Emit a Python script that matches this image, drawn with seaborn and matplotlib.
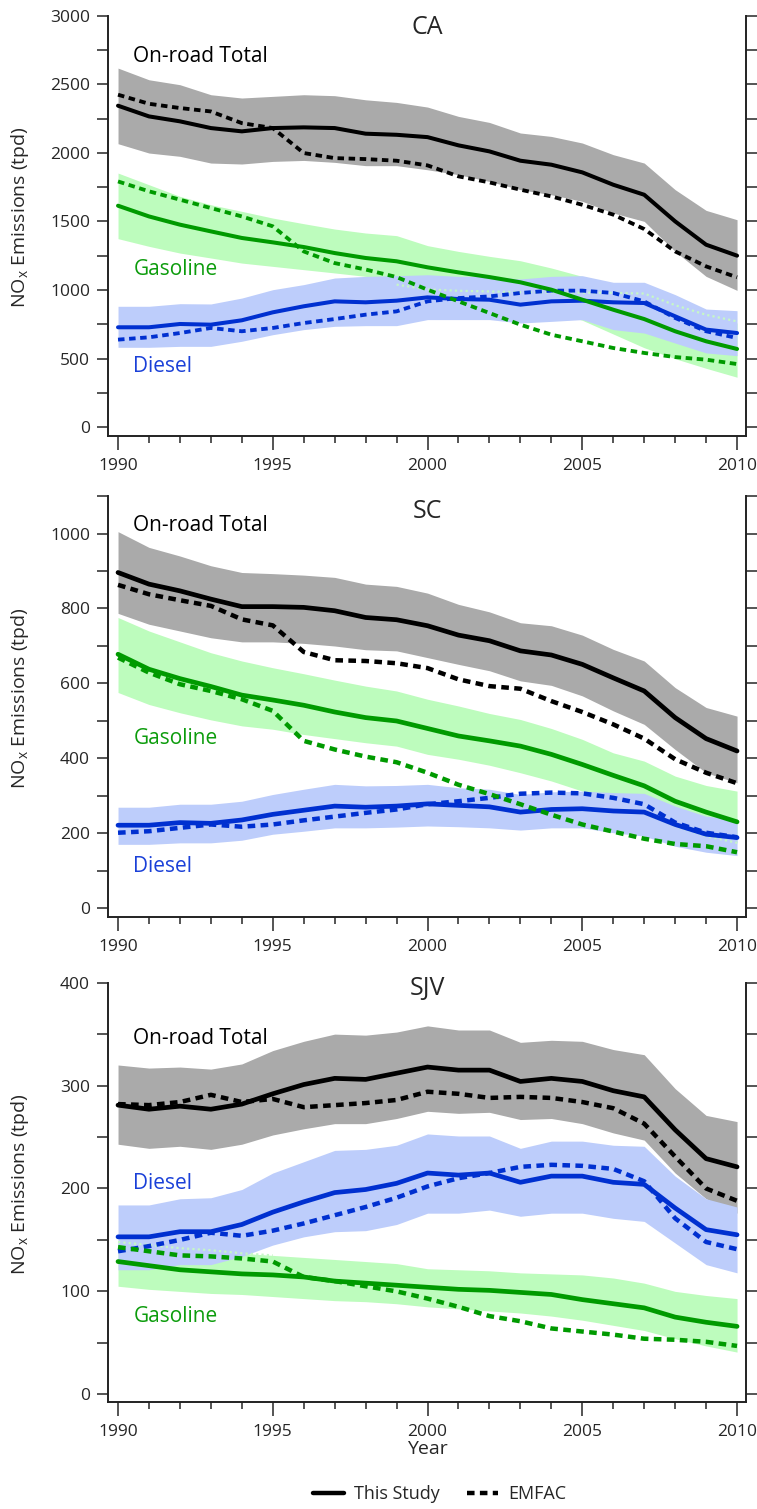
import matplotlib
matplotlib.use("Agg")
import matplotlib.pyplot as plt
from matplotlib.lines import Line2D
from matplotlib.ticker import MultipleLocator
import seaborn as sns

years = list(range(1990, 2011))

# ---- California (statewide) ----
ca_total = [2344, 2266, 2230, 2181, 2157, 2181, 2186, 2181, 2140, 2132, 2115, 2055, 2011, 1943, 1914, 1858, 1768, 1695, 1501, 1331, 1251]
ca_total_hi = [2618, 2533, 2497, 2424, 2400, 2412, 2424, 2417, 2387, 2368, 2334, 2266, 2222, 2145, 2120, 2072, 1987, 1926, 1732, 1581, 1513]
ca_total_lo = [2067, 1999, 1975, 1926, 1919, 1938, 1945, 1931, 1907, 1907, 1877, 1841, 1792, 1732, 1695, 1647, 1562, 1501, 1282, 1100, 998]
ca_total_emfac = [2424, 2358, 2327, 2302, 2217, 2181, 1999, 1962, 1955, 1943, 1909, 1829, 1785, 1732, 1683, 1622, 1550, 1445, 1282, 1173, 1093]
ca_gas = [1615, 1537, 1477, 1428, 1380, 1348, 1314, 1270, 1234, 1210, 1166, 1129, 1095, 1057, 1003, 930, 857, 789, 700, 627, 571]
ca_gas_hi = [1853, 1768, 1683, 1622, 1574, 1525, 1484, 1445, 1416, 1397, 1324, 1282, 1246, 1214, 1161, 1100, 1040, 985, 890, 815, 760]
ca_gas_lo = [1375, 1319, 1270, 1234, 1197, 1173, 1149, 1125, 1100, 1076, 1040, 1003, 960, 905, 850, 780, 680, 580, 500, 430, 365]
ca_gas_emfac = [1792, 1720, 1659, 1598, 1537, 1465, 1282, 1197, 1150, 1095, 1003, 918, 833, 748, 675, 627, 578, 542, 512, 493, 461]
ca_diesel = [729, 729, 753, 748, 780, 838, 882, 918, 911, 923, 947, 935, 930, 894, 918, 923, 911, 906, 809, 712, 687]
ca_diesel_hi = [882, 882, 901, 899, 942, 1003, 1040, 1088, 1100, 1105, 1112, 1100, 1100, 1081, 1100, 1105, 1057, 1057, 967, 862, 850]
ca_diesel_lo = [583, 583, 590, 590, 627, 675, 712, 736, 741, 741, 785, 785, 785, 760, 772, 785, 712, 687, 614, 542, 522]
ca_diesel_emfac = [639, 656, 687, 724, 700, 724, 760, 789, 821, 845, 918, 942, 954, 979, 996, 996, 979, 918, 797, 700, 651]
ca_gas_edge_years = list(range(1999, 2011))
ca_gas_edge = [1040, 1005, 995, 990, 985, 983, 981, 980, 975, 890, 820, 772]

# ---- South Coast ----
sc_total = [896, 865, 847, 825, 805, 805, 803, 794, 776, 770, 754, 729, 714, 687, 676, 651, 615, 580, 509, 453, 420]
sc_total_hi = [1005, 963, 940, 914, 896, 893, 889, 883, 865, 859, 841, 811, 791, 762, 754, 729, 691, 660, 589, 536, 513]
sc_total_lo = [787, 758, 740, 722, 711, 711, 707, 700, 690, 687, 669, 651, 634, 607, 595, 567, 527, 491, 424, 362, 335]
sc_total_emfac = [863, 838, 822, 807, 771, 755, 684, 662, 660, 654, 641, 611, 593, 586, 553, 524, 491, 453, 398, 362, 334]
sc_gas = [678, 638, 613, 592, 569, 556, 542, 524, 509, 500, 480, 460, 447, 433, 411, 384, 355, 327, 286, 257, 231]
sc_gas_hi = [776, 740, 711, 682, 660, 642, 626, 609, 593, 580, 558, 540, 520, 504, 480, 451, 415, 393, 353, 328, 313]
sc_gas_lo = [576, 544, 522, 503, 487, 478, 464, 453, 442, 433, 411, 398, 382, 362, 340, 313, 282, 255, 220, 193, 175]
sc_gas_emfac = [669, 629, 598, 580, 558, 527, 447, 424, 405, 390, 362, 330, 305, 278, 250, 224, 205, 186, 172, 166, 150]
sc_diesel = [222, 222, 229, 227, 236, 251, 262, 273, 270, 273, 279, 275, 271, 257, 264, 266, 260, 257, 224, 198, 189]
sc_diesel_hi = [270, 270, 278, 278, 286, 304, 318, 331, 327, 328, 331, 322, 318, 304, 311, 313, 309, 307, 273, 246, 238]
sc_diesel_lo = [171, 171, 175, 175, 182, 198, 206, 215, 215, 217, 220, 218, 215, 209, 215, 215, 202, 193, 166, 150, 141]
sc_diesel_emfac = [202, 206, 215, 224, 218, 224, 235, 245, 255, 264, 278, 286, 295, 306, 309, 307, 295, 278, 229, 202, 190]
sc_gas_edge_years = [2007, 2008, 2009, 2010]
sc_gas_edge = [255, 220, 193, 175]

# ---- San Joaquin Valley ----
sjv_total = [281, 277, 280, 277, 282, 292, 301, 307, 306, 312, 318, 315, 315, 304, 307, 304, 295, 289, 257, 229, 221]
sjv_total_hi = [320, 317, 318, 316, 321, 334, 343, 350, 349, 352, 358, 354, 354, 342, 344, 343, 335, 330, 297, 271, 265]
sjv_total_lo = [243, 239, 241, 238, 243, 252, 258, 263, 263, 268, 275, 273, 274, 267, 268, 263, 254, 247, 215, 190, 176]
sjv_total_emfac = [282, 281, 284, 291, 284, 287, 279, 281, 283, 286, 294, 292, 288, 289, 288, 284, 278, 263, 231, 200, 188]
sjv_gas = [129, 125, 121, 119, 117, 116, 114, 110, 108, 106, 104, 102, 101, 99, 97, 92, 88, 84, 75, 70, 66]
sjv_gas_hi = [148, 145, 142, 140, 137, 135, 133, 131, 129, 127, 122, 121, 120, 118, 117, 116, 113, 108, 100, 96, 93]
sjv_gas_lo = [105, 102, 100, 98, 97, 95, 93, 91, 90, 88, 85, 83, 81, 79, 76, 72, 67, 62, 54, 47, 41]
sjv_gas_emfac = [143, 139, 135, 134, 132, 129, 114, 110, 105, 100, 93, 85, 76, 71, 64, 61, 58, 54, 53, 51, 47]
sjv_diesel = [153, 153, 158, 158, 165, 177, 187, 196, 199, 205, 215, 213, 215, 206, 212, 212, 206, 204, 181, 160, 155]
sjv_diesel_hi = [184, 184, 190, 191, 199, 215, 226, 237, 238, 242, 253, 251, 251, 239, 246, 246, 242, 241, 212, 190, 182]
sjv_diesel_lo = [121, 121, 126, 126, 134, 145, 153, 158, 159, 165, 176, 176, 179, 173, 176, 176, 171, 168, 147, 126, 118]
sjv_diesel_emfac = [139, 144, 150, 157, 154, 159, 166, 174, 182, 191, 202, 210, 215, 221, 223, 222, 219, 207, 171, 148, 141]
sjv_gas_edge_years = [1990, 1991, 1992, 1993, 1994, 1995]
sjv_gas_edge = [148, 145, 142, 140, 137, 135]

BLACK = "#000000"
GREEN = "#009a00"
BLUE = "#0030d0"
FILL_GRAY = "#aaaaaa"
FILL_GREEN = "#bdfcbd"
FILL_BLUE = "#bdcdfb"
TXT_GREEN = "#0c9c0c"
TXT_BLUE = "#1a40d8"
DASH = (0, (1.7, 1.2))

sns.set_style("ticks")
plt.rcParams["font.family"] = ["Open Sans", "DejaVu Sans"]
plt.rcParams["mathtext.default"] = "regular"

fig = plt.figure(figsize=(7.57, 15.09), dpi=100)

panels = [
    dict(name="CA", rect=[0.1427, 0.7111, 0.8428, 0.2785], ylim=(-63, 3000), major=500, minor=250,
         total=(ca_total, ca_total_lo, ca_total_hi, ca_total_emfac),
         gas=(ca_gas, ca_gas_lo, ca_gas_hi, ca_gas_emfac),
         diesel=(ca_diesel, ca_diesel_lo, ca_diesel_hi, ca_diesel_emfac),
         edge=(ca_gas_edge_years, ca_gas_edge),
         title_y=0.973, lw=2.9,
         labels=[("On-road Total", 2700, BLACK), ("Gasoline", 1149, TXT_GREEN), ("Diesel", 442, TXT_BLUE)]),
    dict(name="SC", rect=[0.1427, 0.3925, 0.8428, 0.2788], ylim=(-22, 1100), major=200, minor=100,
         total=(sc_total, sc_total_lo, sc_total_hi, sc_total_emfac),
         gas=(sc_gas, sc_gas_lo, sc_gas_hi, sc_gas_emfac),
         diesel=(sc_diesel, sc_diesel_lo, sc_diesel_hi, sc_diesel_emfac),
         edge=(sc_gas_edge_years, sc_gas_edge),
         title_y=0.962, lw=3.4,
         labels=[("On-road Total", 1022, BLACK), ("Gasoline", 454, TXT_GREEN), ("Diesel", 112, TXT_BLUE)]),
    dict(name="SJV", rect=[0.1427, 0.0709, 0.8428, 0.2779], ylim=(-7.5, 400), major=100, minor=50,
         total=(sjv_total, sjv_total_lo, sjv_total_hi, sjv_total_emfac),
         gas=(sjv_gas, sjv_gas_lo, sjv_gas_hi, sjv_gas_emfac),
         diesel=(sjv_diesel, sjv_diesel_lo, sjv_diesel_hi, sjv_diesel_emfac),
         edge=(sjv_gas_edge_years, sjv_gas_edge),
         title_y=0.985, lw=3.4,
         labels=[("On-road Total", 346, BLACK), ("Diesel", 205, TXT_BLUE), ("Gasoline", 76, TXT_GREEN)]),
]

axes = []
for p in panels:
    ax = fig.add_axes(p["rect"])
    axes.append(ax)

    # uncertainty bands: total, gasoline, diesel
    for (mid, lo, hi, em), fc in ((p["total"], FILL_GRAY), (p["gas"], FILL_GREEN), (p["diesel"], FILL_BLUE)):
        ax.fill_between(years, lo, hi, color=fc, linewidth=0, zorder=1)

    ey, ev = p["edge"]
    sns.lineplot(x=ey, y=ev, ax=ax, color="#c6f8c6", linewidth=1.6,
                 linestyle=(0, (1, 1.4)), zorder=2)

    lw = p["lw"]
    for (mid, lo, hi, em), c in ((p["diesel"], BLUE), (p["gas"], GREEN), (p["total"], BLACK)):
        sns.lineplot(x=years, y=mid, ax=ax, color=c, linewidth=lw, zorder=3)
        sns.lineplot(x=years, y=em, ax=ax, color=c, linewidth=lw * 0.95, linestyle=DASH, zorder=3)

    ax.set_xlim(1989.677, 2010.29)
    ax.set_ylim(*p["ylim"])
    ax.xaxis.set_major_locator(MultipleLocator(5))
    ax.xaxis.set_minor_locator(MultipleLocator(1))
    ax.yaxis.set_major_locator(MultipleLocator(p["major"]))
    ax.yaxis.set_minor_locator(MultipleLocator(p["minor"]))
    ax.tick_params(axis="x", which="major", length=10, width=1.1, pad=6, labelsize=12.5, direction="out")
    ax.tick_params(axis="x", which="minor", length=5, width=1.1, direction="out")
    ax.tick_params(axis="y", which="both", length=8, width=1.1, left=True, right=True,
                   labelleft=True, labelright=False, direction="out", pad=5, labelsize=12.5)

    for side in ("left", "bottom", "right"):
        ax.spines[side].set_linewidth(1.4)
        ax.spines[side].set_color("#222222")
    ax.spines["top"].set_visible(False)

    ax.set_xlabel("")
    ax.set_ylabel("NO$_\\mathregular{x}$ Emissions (tpd)", fontsize=14)
    ax.yaxis.set_label_coords(-0.121, 0.52)

    ax.text(0.5, p["title_y"], p["name"], transform=ax.transAxes, ha="center", va="center", fontsize=18)
    for txt, yv, col in p["labels"]:
        ax.text(1990.5, yv, txt, color=col, fontsize=15, ha="left", va="center")

axes[-1].set_xlabel("Year", fontsize=14)
axes[-1].xaxis.set_label_coords(0.5, -0.09)

handles = [Line2D([], [], color=BLACK, linewidth=3.2),
           Line2D([], [], color=BLACK, linewidth=3.2, linestyle=DASH)]
fig.legend(handles, ["This Study", "EMFAC"], loc="center", bbox_to_anchor=(0.581, 0.0099),
           ncol=2, frameon=False, fontsize=13, handlelength=1.7, columnspacing=1.5, handletextpad=0.6)

fig.savefig("out.png", dpi=100)
